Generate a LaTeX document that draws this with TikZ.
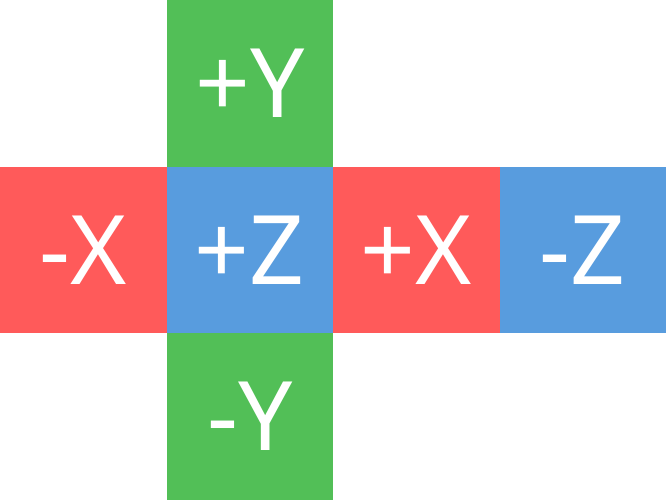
\documentclass[tikz,border=0pt]{standalone}
\usepackage{fontspec}
\setmainfont{Noto Sans}
\definecolor{facered}{HTML}{FF5A5A}
\definecolor{facegreen}{HTML}{52BF57}
\definecolor{faceblue}{HTML}{589CDE}
\begin{document}
\begin{tikzpicture}[
  face/.style={rectangle, minimum width=2.5cm, minimum height=2.5cm,
               inner sep=0pt, text=white, font=\fontsize{41}{49}\selectfont},
  xface/.style={face, fill=facered},
  yface/.style={face, fill=facegreen},
  zface/.style={face, fill=faceblue}]

  \useasboundingbox (0,0) rectangle (10,7.5);

  \node[yface] (posy) at (3.75,6.25) {+Y};
  \node[xface] (negx) at (1.25,3.75) {-X};
  \node[zface] (posz) at (3.75,3.75) {+Z};
  \node[xface] (posx) at (6.25,3.75) {+X};
  \node[zface] (negz) at (8.75,3.75) {-Z};
  \node[yface] (negy) at (3.75,1.25) {-Y};

\end{tikzpicture}
\end{document}
